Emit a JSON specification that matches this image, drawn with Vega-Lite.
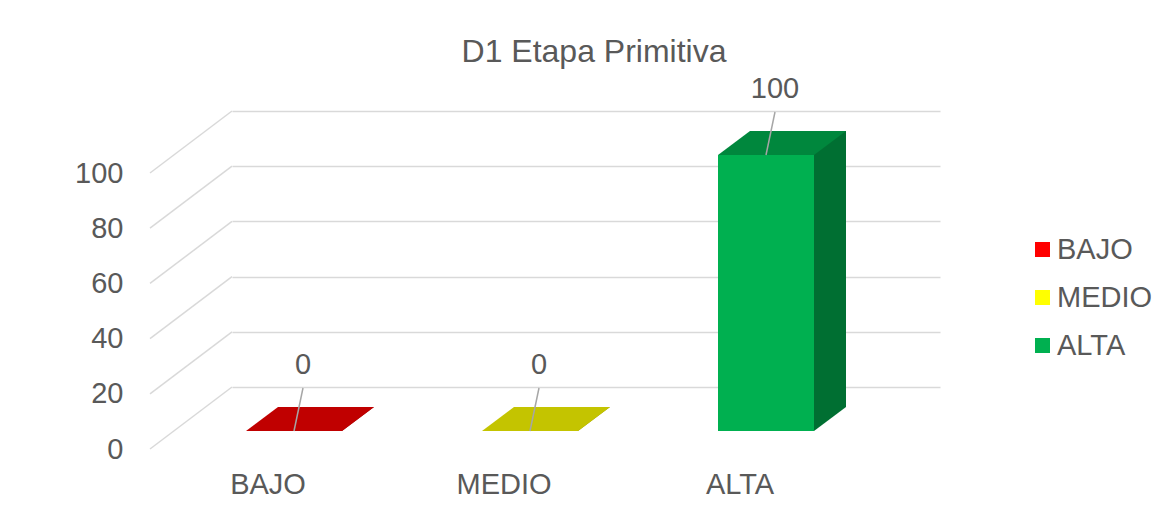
{
  "$schema": "https://vega.github.io/schema/vega-lite/v6.json",
  "width": 708,
  "height": 276,
  "autosize": {"type": "none"},
  "padding": {"left": 232, "top": 111, "right": 229, "bottom": 124},
  "background": "white",
  "config": {"view": {"stroke": null}, "font": "Liberation Sans"},
  "title": {
    "text": "D1 Etapa Primitiva",
    "fontSize": 32,
    "fontWeight": "normal",
    "font": "Liberation Sans",
    "color": "#595959",
    "anchor": "middle",
    "frame": "group",
    "baseline": "alphabetic",
    "dx": 8,
    "offset": -19
  },
  "datasets": {
    "niveles": [
      {"nivel": "BAJO", "valor": 0},
      {"nivel": "MEDIO", "valor": 0},
      {"nivel": "ALTA", "valor": 100}
    ],
    "rejilla": [
      {"v": 0}, {"v": 20}, {"v": 40}, {"v": 60}, {"v": 80}, {"v": 100}
    ]
  },
  "resolve": {"scale": {"color": "independent"}},
  "layer": [
    {
      "data": {"name": "rejilla"},
      "mark": {"type": "point", "shape": "M -118 0 L -200 62", "size": 4, "filled": false, "color": "#d9d9d9", "strokeWidth": 1.5, "opacity": 1},
      "encoding": {
        "x": {
          "datum": "BAJO", "type": "nominal", "title": null,
          "scale": {"domain": ["BAJO", "MEDIO", "ALTA"], "paddingInner": 0, "paddingOuter": 0},
          "axis": {"orient": "bottom", "domain": false, "ticks": false, "tickSize": 0, "grid": false, "labelAngle": 0, "labelFontSize": 29, "labelFont": "Liberation Sans", "labelColor": "#595959", "labelOffset": -82, "labelPadding": 106, "labelBaseline": "alphabetic", "title": null}
        },
        "y": {
          "field": "v", "type": "quantitative", "title": null,
          "scale": {"domain": [0, 100], "nice": false},
          "axis": {"values": [0, 20, 40, 60, 80, 100], "offset": 82, "domain": false, "ticks": false, "tickSize": 0, "grid": true, "gridColor": "#d9d9d9", "gridWidth": 1.5, "labelFontSize": 29, "labelFont": "Liberation Sans", "labelColor": "#595959", "labelOffset": 62, "labelPadding": 27, "title": null}
        }
      }
    },
    {
      "data": {"name": "niveles"},
      "mark": {"type": "bar", "width": 32, "xOffset": 8, "yOffset": 20, "y2Offset": 20},
      "encoding": {
        "x": {"field": "nivel", "type": "nominal", "title": null},
        "y": {"field": "valor", "type": "quantitative", "title": null},
        "color": {"field": "nivel", "type": "nominal", "legend": null, "scale": {"domain": ["BAJO", "MEDIO", "ALTA"], "range": ["#900000", "#939300", "#006F32"]}}
      }
    },
    {
      "data": {"name": "niveles"},
      "mark": {"type": "point", "shape": "M -8 20 L -8 44 L 24 20 Z", "size": 4, "filled": true, "opacity": 1, "strokeWidth": 0},
      "encoding": {
        "x": {"field": "nivel", "type": "nominal", "title": null},
        "y": {"datum": 0, "type": "quantitative"},
        "color": {"field": "nivel", "type": "nominal", "legend": null, "scale": {"domain": ["BAJO", "MEDIO", "ALTA"], "range": ["#900000", "#939300", "#006F32"]}}
      }
    },
    {
      "data": {"name": "niveles"},
      "mark": {"type": "bar", "width": 96, "xOffset": -56, "yOffset": 44, "y2Offset": 44},
      "encoding": {
        "x": {"field": "nivel", "type": "nominal", "title": null},
        "y": {"field": "valor", "type": "quantitative", "title": null},
        "color": {
          "field": "nivel", "type": "nominal",
          "scale": {"domain": ["BAJO", "MEDIO", "ALTA"], "range": ["#FF0000", "#FFFF00", "#00B050"]},
          "legend": {"orient": "none", "legendX": 796, "legendY": 124, "title": null, "symbolType": "square", "symbolSize": 225, "symbolStrokeWidth": 0, "labelFontSize": 29, "labelFont": "Liberation Sans", "labelColor": "#595959", "labelOffset": 0, "rowPadding": 18}
        }
      }
    },
    {
      "data": {"name": "niveles"},
      "mark": {"type": "point", "shape": "M -104 44 L -8 44 L 24 20 L -72 20 Z", "size": 4, "filled": true, "opacity": 1, "strokeWidth": 0},
      "encoding": {
        "x": {"field": "nivel", "type": "nominal", "title": null},
        "y": {"field": "valor", "type": "quantitative", "title": null},
        "color": {"field": "nivel", "type": "nominal", "legend": null, "scale": {"domain": ["BAJO", "MEDIO", "ALTA"], "range": ["#C00000", "#C4C400", "#00873D"]}}
      }
    },
    {
      "data": {"name": "niveles"},
      "mark": {"type": "text", "xOffset": -47, "yOffset": -22, "fontSize": 29, "font": "Liberation Sans", "baseline": "middle", "align": "center", "fill": "white", "stroke": "white", "strokeWidth": 10},
      "encoding": {
        "x": {"field": "nivel", "type": "nominal", "title": null},
        "y": {"field": "valor", "type": "quantitative", "title": null},
        "text": {"field": "valor", "type": "quantitative"}
      }
    },
    {
      "data": {"name": "niveles"},
      "mark": {"type": "point", "shape": "M -56 44 L -47 1", "size": 4, "filled": false, "color": "#a6a6a6", "strokeWidth": 1.5, "opacity": 1},
      "encoding": {
        "x": {"field": "nivel", "type": "nominal", "title": null},
        "y": {"field": "valor", "type": "quantitative", "title": null}
      }
    },
    {
      "data": {"name": "niveles"},
      "mark": {"type": "text", "xOffset": -47, "yOffset": -22, "fontSize": 29, "font": "Liberation Sans", "baseline": "middle", "align": "center", "color": "#595959"},
      "encoding": {
        "x": {"field": "nivel", "type": "nominal", "title": null},
        "y": {"field": "valor", "type": "quantitative", "title": null},
        "text": {"field": "valor", "type": "quantitative"}
      }
    }
  ]
}
